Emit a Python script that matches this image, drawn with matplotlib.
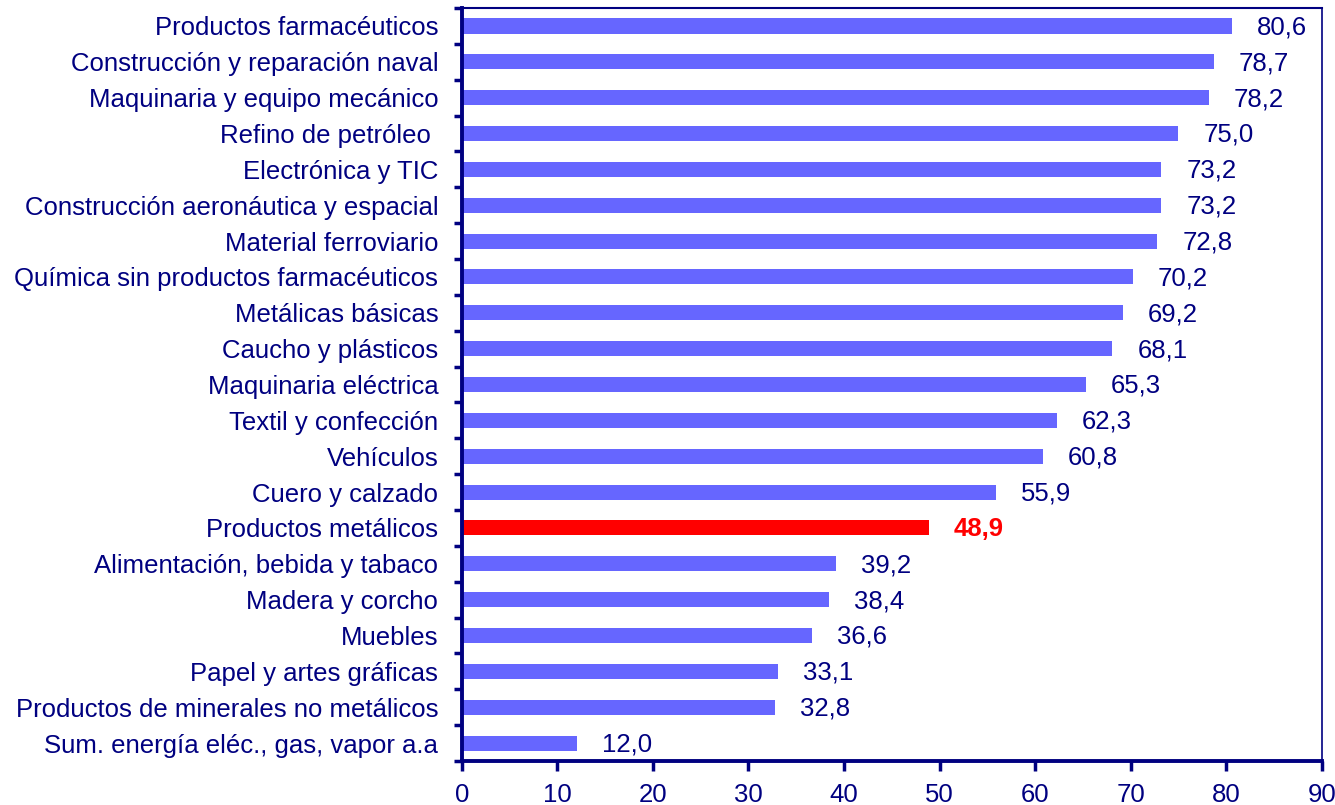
import numpy as np
import matplotlib
matplotlib.use("Agg")
from matplotlib import pyplot as plt

plt.rcParams['font.family'] = ['Liberation Sans', 'DejaVu Sans']

sectores = [
    "Productos farmacéuticos",
    "Construcción y reparación naval",
    "Maquinaria y equipo mecánico",
    "Refino de petróleo ",
    "Electrónica y TIC",
    "Construcción aeronáutica y espacial",
    "Material ferroviario",
    "Química sin productos farmacéuticos",
    "Metálicas básicas",
    "Caucho y plásticos",
    "Maquinaria eléctrica",
    "Textil y confección",
    "Vehículos",
    "Cuero y calzado",
    "Productos metálicos",
    "Alimentación, bebida y tabaco",
    "Madera y corcho",
    "Muebles",
    "Papel y artes gráficas",
    "Productos de minerales no metálicos",
    "Sum. energía eléc., gas, vapor a.a",
]
valores = [80.6, 78.7, 78.2, 75.0, 73.2, 73.2, 72.8, 70.2, 69.2, 68.1, 65.3,
           62.3, 60.8, 55.9, 48.9, 39.2, 38.4, 36.6, 33.1, 32.8, 12.0]
destacado = "Productos metálicos"

navy = "#000080"
azul = "#6666FF"
rojo = "#FF0000"
fs = 18.5

fig = plt.figure(figsize=(13.35, 8.05), dpi=100)
ax = fig.add_axes([0.346, 0.0547, 0.644, 0.9353])

y = np.arange(len(sectores))
colores = [rojo if s == destacado else azul for s in sectores]
ax.barh(y, valores, height=0.42, color=colores)

# etiquetas de valor con coma decimal
for yi, v, s in zip(y, valores, sectores):
    txt = f"{v:.1f}".replace(".", ",")
    if s == destacado:
        ax.annotate(txt, (v, yi), xytext=(18, -1), textcoords="offset points",
                    va="center", ha="left", fontsize=fs, color=rojo, fontweight="bold")
    else:
        ax.annotate(txt, (v, yi), xytext=(18, -1), textcoords="offset points",
                    va="center", ha="left", fontsize=fs, color=navy)

ax.set_xlim(0, 90)
ax.set_ylim(len(sectores) - 0.5, -0.5)
ax.set_xticks(np.arange(0, 91, 10))
ax.set_yticks(y)
ax.set_yticklabels(sectores, fontsize=fs, color=navy)
ax.tick_params(axis="y", length=0, pad=17)
ax.set_yticks(np.arange(-0.5, len(sectores)), minor=True)
ax.tick_params(axis="y", which="minor", length=6, width=2.5, color=navy)
ax.tick_params(axis="x", length=7, width=2.5, color=navy, labelcolor=navy,
               labelsize=fs, pad=9)

ax.spines["left"].set_linewidth(2.8)
ax.spines["bottom"].set_linewidth(2.8)
ax.spines["top"].set_linewidth(1.5)
ax.spines["right"].set_linewidth(1.2)
for sp in ax.spines.values():
    sp.set_color(navy)

plt.savefig("out.png", dpi=100)
